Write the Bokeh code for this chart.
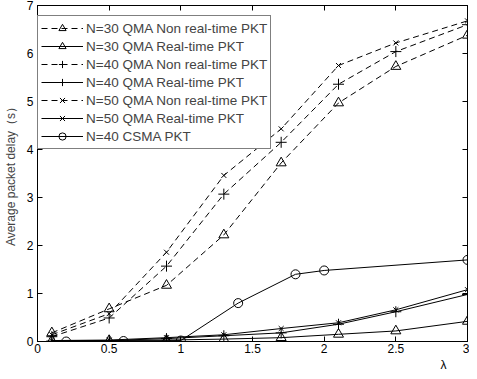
from bokeh.plotting import figure
from bokeh.models import LinearAxis, Legend, LegendItem, FixedTicker, Range1d, Title
from bokeh.embed import file_html
from bokeh.resources import INLINE

# ---- data ----
lam = [0.1, 0.5, 0.9, 1.3, 1.7, 2.1, 2.5, 3.0]
n30_nrt = [0.18, 0.68, 1.17, 2.22, 3.72, 4.97, 5.73, 6.38]
n30_rt = [0.02, 0.02, 0.03, 0.05, 0.08, 0.15, 0.22, 0.42]
n40_nrt = [0.10, 0.49, 1.57, 3.07, 4.15, 5.36, 6.04, 6.60]
n40_rt = [0.01, 0.02, 0.06, 0.12, 0.18, 0.36, 0.62, 0.98]
n50_nrt = [0.14, 0.58, 1.86, 3.46, 4.43, 5.75, 6.22, 6.68]
n50_rt = [0.02, 0.03, 0.08, 0.14, 0.27, 0.39, 0.66, 1.08]
csma_lam = [0.2, 0.6, 1.0, 1.4, 1.8, 2.0, 3.0]
csma = [0.0, 0.01, 0.02, 0.80, 1.40, 1.48, 1.70]

x_ticks = [0, 0.5, 1, 1.5, 2, 2.5, 3]
x_tick_labels = ["0", "0.5", "1", "1.5", "2", "2.5", "3"]
y_ticks = [0, 1, 2, 3, 4, 5, 6, 7]

series = [
    ("N=30 QMA Non real-time PKT", lam, n30_nrt, "triangle", "6 4", 10),
    ("N=30 QMA Real-time PKT", lam, n30_rt, "triangle", "solid", 10),
    ("N=40 QMA Non real-time PKT", lam, n40_nrt, "cross", "6 4", 11),
    ("N=40 QMA Real-time PKT", lam, n40_rt, "cross", "solid", 11),
    ("N=50 QMA Non real-time PKT", lam, n50_nrt, "x", "6 4", 7),
    ("N=50 QMA Real-time PKT", lam, n50_rt, "x", "solid", 7),
    ("N=40 CSMA PKT", csma_lam, csma, "circle", "solid", 9),
]

FONT = "Liberation Sans"

p = figure(width=469, height=371, output_backend="svg", toolbar_location=None,
           x_range=Range1d(0, 3), y_range=Range1d(0, 7),
           min_border_left=32, min_border_right=2, min_border_top=5, min_border_bottom=25)
p.xgrid.visible = False
p.ygrid.visible = False
p.outline_line_color = "black"
p.outline_line_width = 1
p.background_fill_color = "white"
p.border_fill_color = "white"

items = []
for name, xs, ys, marker, dash, size in series:
    r1 = p.line(xs, ys, line_color="black", line_width=1, line_dash=dash)
    r2 = p.scatter(xs, ys, marker=marker, size=size, line_color="black",
                   fill_color=None, line_width=1)
    items.append(LegendItem(label=name, renderers=[r1, r2]))

def style_axis(ax, show_labels):
    ax.major_tick_in = 5
    ax.major_tick_out = 0
    ax.minor_tick_line_color = None
    ax.axis_line_color = "black"
    ax.major_tick_line_color = "black"
    ax.major_label_text_font = FONT
    if show_labels:
        ax.major_label_text_color = "black"
        ax.major_label_text_font_size = "12px"
        ax.major_label_standoff = 2
    else:
        ax.major_label_text_color = None
        ax.major_label_text_font_size = "1px"
        ax.major_label_standoff = 0

xa = p.xaxis[0]
xa.ticker = FixedTicker(ticks=x_ticks)
xa.major_label_overrides = {t: l for t, l in zip(x_ticks, x_tick_labels)}
style_axis(xa, True)

ya = p.yaxis[0]
ya.ticker = FixedTicker(ticks=y_ticks)
style_axis(ya, True)
ya.major_label_standoff = 4
ya.axis_label = "Average packet delay（s）"
ya.axis_label_text_font = FONT
ya.axis_label_text_font_size = "12px"
ya.axis_label_text_font_style = "normal"
ya.axis_label_standoff = 6

top = LinearAxis(ticker=FixedTicker(ticks=x_ticks))
style_axis(top, False)
p.add_layout(top, "above")
right = LinearAxis(ticker=FixedTicker(ticks=y_ticks))
style_axis(right, False)
p.add_layout(right, "right")

lam_title = Title(text="λ", align="right", offset=21, standoff=0,
                  text_font=FONT, text_font_size="12px", text_font_style="normal",
                  text_color="black")
p.add_layout(lam_title, "below")

legend = Legend(items=items, location=(0, 192), padding=3, spacing=0, margin=0,
                label_height=18, glyph_height=18, glyph_width=42, label_standoff=3,
                label_text_font=FONT, label_text_font_size="13.5px",
                border_line_color="black", border_line_width=1,
                background_fill_color="white", background_fill_alpha=1)
p.add_layout(legend, "center")

open("out.html", "w").write(file_html(p, INLINE))
